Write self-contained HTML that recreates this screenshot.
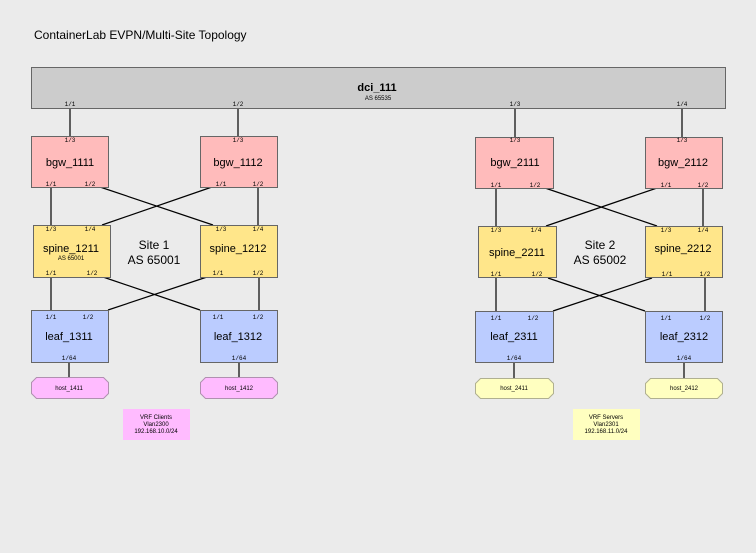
<!DOCTYPE html>
<html><head><meta charset="utf-8"><style>
html,body{margin:0;padding:0;background:#ebebeb;}
svg{display:block;}
.n{font-family:"Liberation Sans",sans-serif;font-size:11px;fill:#000;text-anchor:middle;}
.p{font-family:"Liberation Mono",monospace;font-size:6px;fill:#000;text-anchor:middle;}
.s{font-family:"Liberation Sans",sans-serif;font-size:6px;fill:#000;text-anchor:middle;}
.h{font-family:"Liberation Sans",sans-serif;font-size:12px;fill:#000;text-anchor:middle;}
</style></head><body>
<svg width="756" height="553" xmlns="http://www.w3.org/2000/svg">
<rect width="756" height="553" fill="#ebebeb"/>
<text x="34" y="39" font-family="Liberation Sans,sans-serif" font-size="12">ContainerLab EVPN/Multi-Site Topology</text>
<g stroke="#000" stroke-width="1.2">
<line x1="70" y1="108" x2="70" y2="136"/><line x1="238" y1="108" x2="238" y2="136"/>
<line x1="515" y1="108" x2="515" y2="137"/><line x1="682" y1="108" x2="682" y2="137"/>
<line x1="51" y1="187" x2="51" y2="225"/><line x1="100" y1="187" x2="213" y2="225"/>
<line x1="212" y1="187" x2="102" y2="225"/><line x1="258" y1="187" x2="258" y2="225"/>
<line x1="51" y1="277" x2="51" y2="310"/><line x1="103" y1="277" x2="200" y2="310"/>
<line x1="207" y1="277" x2="108" y2="310"/><line x1="259" y1="277" x2="259" y2="310"/>
<line x1="69" y1="362" x2="69" y2="377"/><line x1="239" y1="362" x2="239" y2="377"/>
<line x1="496" y1="188" x2="496" y2="226"/><line x1="545" y1="188" x2="657" y2="226"/>
<line x1="657" y1="188" x2="546" y2="226"/><line x1="703" y1="188" x2="703" y2="226"/>
<line x1="496" y1="278" x2="496" y2="311"/><line x1="548" y1="278" x2="645" y2="311"/>
<line x1="652" y1="278" x2="553" y2="311"/><line x1="705" y1="278" x2="705" y2="311"/>
<line x1="514" y1="362" x2="514" y2="378"/><line x1="684" y1="362" x2="684" y2="378"/>
</g>
<g stroke="#666" stroke-width="1">
<rect x="31.5" y="67.5" width="694" height="41" fill="#cccccc"/>
<rect x="31.5" y="136.5" width="77" height="51" fill="#ffbbbb"/>
<rect x="200.5" y="136.5" width="77" height="51" fill="#ffbbbb"/>
<rect x="475.5" y="137.5" width="78" height="51" fill="#ffbbbb"/>
<rect x="645.5" y="137.5" width="77" height="51" fill="#ffbbbb"/>
<rect x="33.5" y="225.5" width="77" height="52" fill="#ffe68a"/>
<rect x="200.5" y="225.5" width="77" height="52" fill="#ffe68a"/>
<rect x="478.5" y="226.5" width="78" height="51" fill="#ffe68a"/>
<rect x="645.5" y="226.5" width="77" height="51" fill="#ffe68a"/>
<rect x="31.5" y="310.5" width="77" height="52" fill="#bbccff"/>
<rect x="200.5" y="310.5" width="77" height="52" fill="#bbccff"/>
<rect x="475.5" y="311.5" width="78" height="51" fill="#bbccff"/>
<rect x="645.5" y="311.5" width="77" height="51" fill="#bbccff"/>
</g>
<g stroke="#b090b0" fill="#ffbbff">
<path d="M36.5 377.5 H103.5 L108.5 382.5 V393.5 L103.5 398.5 H36.5 L31.5 393.5 V382.5 Z"/>
<path d="M205.5 377.5 H272.5 L277.5 382.5 V393.5 L272.5 398.5 H205.5 L200.5 393.5 V382.5 Z"/>
</g>
<g stroke="#b0b090" fill="#ffffc0">
<path d="M480.5 378.5 H548.5 L553.5 383.5 V393.5 L548.5 398.5 H480.5 L475.5 393.5 V383.5 Z"/>
<path d="M650.5 378.5 H717.5 L722.5 383.5 V393.5 L717.5 398.5 H650.5 L645.5 393.5 V383.5 Z"/>
</g>
<rect x="123" y="409" width="67" height="31" fill="#ffbbff"/>
<rect x="573" y="409" width="67" height="31" fill="#ffffc0"/>
<text x="377" y="91" class="n" font-weight="bold">dci_111</text>
<text x="378" y="100" class="s">AS 65535</text>
<text x="70" y="166" class="n">bgw_1111</text><text x="238" y="166" class="n">bgw_1112</text>
<text x="515" y="166" class="n">bgw_2111</text><text x="683" y="166" class="n">bgw_2112</text>
<text x="71" y="252" class="n">spine_1211</text><text x="71" y="260" class="s">AS 65001</text>
<text x="238" y="252" class="n">spine_1212</text>
<text x="517" y="256" class="n">spine_2211</text><text x="683" y="252" class="n">spine_2212</text>
<text x="69" y="340" class="n">leaf_1311</text><text x="238" y="340" class="n">leaf_1312</text>
<text x="514" y="340" class="n">leaf_2311</text><text x="684" y="340" class="n">leaf_2312</text>
<text x="154" y="249" class="h">Site 1</text><text x="154" y="264" class="h">AS 65001</text>
<text x="600" y="249" class="h">Site 2</text><text x="600" y="264" class="h">AS 65002</text>
<text x="69" y="390" class="s">host_1411</text><text x="239" y="390" class="s">host_1412</text>
<text x="514" y="390" class="s">host_2411</text><text x="684" y="390" class="s">host_2412</text>
<text x="156" y="419" class="s">VRF Clients</text><text x="156" y="426" class="s">Vlan2300</text><text x="156" y="433" class="s">192.168.10.0/24</text>
<text x="606" y="419" class="s">VRF Servers</text><text x="606" y="426" class="s">Vlan2301</text><text x="606" y="433" class="s">192.168.11.0/24</text>
<g class="p">
<text x="70" y="106" class="p">1/1</text><text x="238" y="106" class="p">1/2</text><text x="515" y="106" class="p">1/3</text><text x="682" y="106" class="p">1/4</text>
<text x="70" y="142" class="p">1/3</text><text x="238" y="142" class="p">1/3</text><text x="515" y="142" class="p">1/3</text><text x="682" y="142" class="p">1/3</text>
<text x="51" y="186" class="p">1/1</text><text x="90" y="186" class="p">1/2</text><text x="221" y="186" class="p">1/1</text><text x="258" y="186" class="p">1/2</text>
<text x="496" y="187" class="p">1/1</text><text x="535" y="187" class="p">1/2</text><text x="666" y="187" class="p">1/1</text><text x="703" y="187" class="p">1/2</text>
<text x="51" y="231" class="p">1/3</text><text x="90" y="231" class="p">1/4</text><text x="221" y="231" class="p">1/3</text><text x="258" y="231" class="p">1/4</text>
<text x="496" y="232" class="p">1/3</text><text x="536" y="232" class="p">1/4</text><text x="666" y="232" class="p">1/3</text><text x="703" y="232" class="p">1/4</text>
<text x="51" y="275" class="p">1/1</text><text x="92" y="275" class="p">1/2</text><text x="218" y="275" class="p">1/1</text><text x="258" y="275" class="p">1/2</text>
<text x="496" y="276" class="p">1/1</text><text x="537" y="276" class="p">1/2</text><text x="667" y="276" class="p">1/1</text><text x="705" y="276" class="p">1/2</text>
<text x="51" y="319" class="p">1/1</text><text x="88" y="319" class="p">1/2</text><text x="218" y="319" class="p">1/1</text><text x="258" y="319" class="p">1/2</text>
<text x="496" y="320" class="p">1/1</text><text x="533" y="320" class="p">1/2</text><text x="666" y="320" class="p">1/1</text><text x="705" y="320" class="p">1/2</text>
<text x="69" y="360" class="p">1/64</text><text x="239" y="360" class="p">1/64</text><text x="514" y="360" class="p">1/64</text><text x="684" y="360" class="p">1/64</text>
</g>
</svg>
</body></html>
